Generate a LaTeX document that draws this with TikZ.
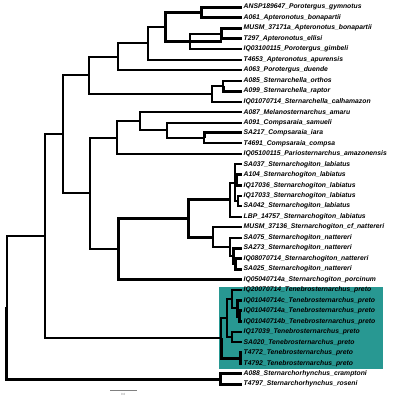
\documentclass[tikz,border=0pt]{standalone}
\usepackage{fontspec}
\setsansfont{Liberation Sans}
\usetikzlibrary{positioning}

\definecolor{clade}{RGB}{40,152,146}
\tikzset{
    br/.style={line width=2pt},
    thk/.style={line width=3pt},
    lab/.style={anchor=west, inner sep=0pt, font=\sffamily\bfseries\itshape\fontsize{6.8}{7}\selectfont},
}

\begin{document}
\begin{tikzpicture}[x=1pt, y=-1pt]
    \useasboundingbox (0, 0) rectangle (393, 400);
    % shaded clade
    \fill[clade] (219, 286.7) rectangle (383.3, 369.3);

    % leaf tips
    \coordinate (L1) at (242, 7.3);
    \coordinate (L2) at (242, 17.8);
    \coordinate (L3) at (242, 28.2);
    \coordinate (L4) at (242, 38.7);
    \coordinate (L5) at (242, 49.2);
    \coordinate (L6) at (242, 59.7);
    \coordinate (L7) at (242, 70.1);
    \coordinate (L8) at (242, 80.6);
    \coordinate (L9) at (242, 91.1);
    \coordinate (L10) at (242, 101.5);
    \coordinate (L11) at (242, 112.0);
    \coordinate (L12) at (242, 122.5);
    \coordinate (L13) at (242, 132.9);
    \coordinate (L14) at (242, 143.4);
    \coordinate (L15) at (242, 153.9);
    \coordinate (L16) at (242, 164.4);
    \coordinate (L17) at (242, 174.8);
    \coordinate (L18) at (242, 185.3);
    \coordinate (L19) at (242, 195.8);
    \coordinate (L20) at (242, 206.2);
    \coordinate (L21) at (242, 216.7);
    \coordinate (L22) at (242, 227.2);
    \coordinate (L23) at (242, 237.6);
    \coordinate (L24) at (242, 248.1);
    \coordinate (L25) at (242, 258.6);
    \coordinate (L26) at (242, 269.1);
    \coordinate (L27) at (242, 279.5);
    \coordinate (L28) at (242, 290.0);
    \coordinate (L29) at (242, 300.5);
    \coordinate (L30) at (242, 310.9);
    \coordinate (L31) at (242, 321.4);
    \coordinate (L32) at (242, 331.9);
    \coordinate (L33) at (242, 342.3);
    \coordinate (L34) at (242, 352.8);
    \coordinate (L35) at (242, 363.3);
    \coordinate (L36) at (242, 373.8);
    \coordinate (L37) at (242, 384.2);

    % internal nodes
    \coordinate (n12) at (201.7, 12.5);
    \coordinate (n34) at (221.7, 33.5);
    \coordinate (n345) at (190, 41.3);
    \coordinate (nApt) at (165, 26.9);
    \coordinate (nC) at (148.3, 43.3);
    \coordinate (nD) at (118.3, 56.7);
    \coordinate (n89) at (223.3, 85.8);
    \coordinate (nStc) at (211.7, 93.7);
    \coordinate (nE) at (89.3, 75.2);
    \coordinate (nCmp) at (204, 138.2);
    \coordinate (nCmp2) at (166.7, 130.3);
    \coordinate (nMel) at (140, 121.2);
    \coordinate (nH) at (116.7, 137.5);
    \coordinate (nLb) at (236.7, 180.1);
    \coordinate (nLc) at (237.5, 201.0);
    \coordinate (nLa) at (235, 182.7);
    \coordinate (nLab) at (230, 199.7);
    \coordinate (nN3) at (235.5, 263.8);
    \coordinate (nN2) at (233.3, 256.0);
    \coordinate (nN1) at (230, 246.8);
    \coordinate (nNat) at (213.3, 237.0);
    \coordinate (nJ) at (188.3, 218.4);
    \coordinate (nI) at (118.3, 249.0);
    \coordinate (nG) at (90, 193.3);
    \coordinate (nB) at (63.3, 134.3);
    \coordinate (nT2b) at (239, 316.2);
    \coordinate (nT2a) at (237, 308.3);
    \coordinate (nT2) at (231.7, 299.2);
    \coordinate (nT3) at (231.7, 337.1);
    \coordinate (nT1) at (226.7, 318.2);
    \coordinate (nT4) at (240.5, 358.0);
    \coordinate (nT0) at (221, 338.1);
    \coordinate (nA0) at (45, 236.2);
    \coordinate (nS) at (220, 379.0);
    \coordinate (root) at (6.7, 307.6);
    \coordinate (stub) at (4.5, 307.6);

    % branches
    \draw[thk] (n12) |- (L1) (n12) |- (L2);
    \draw[thk] (n34) |- (L3) (n34) |- (L4);
    \draw[br] (n345) |- (L5);
    \draw[br] (n345) |- (n34);
    \draw[thk] (n345) -- (n34 |- n345);
    \draw[thk] (nApt) |- (n12) (nApt) |- (n345);
    \draw[br] (nC) |- (nApt) (nC) |- (L6);
    \draw[br] (nD) |- (nC) (nD) |- (L7);
    \draw[br] (n89) |- (L8);
    \draw[thk] (n89) |- (L9);
    \draw[br] (nStc) |- (n89) (nStc) |- (L10);
    \draw[br] (nE) |- (nD) (nE) |- (nStc);
    \draw[thk] (nCmp) |- (L13);
    \draw[br] (nCmp) |- (L14);
    \draw[br] (nCmp2) |- (L12) (nCmp2) |- (nCmp);
    \draw[br] (nMel) |- (L11) (nMel) |- (nCmp2);
    \draw[br] (nH) |- (nMel) (nH) |- (L15);
    \draw[thk] (nLb) |- (L17) (nLb) |- (L18);
    \draw[br] (nLc) |- (L19) (nLc) |- (L20);
    \draw[br] (nLa) |- (L16) (nLa) |- (nLc);
    \draw[thk] (nLa) |- (nLb);
    \draw[br] (nLab) |- (nLa) (nLab) |- (L21);
    \draw[thk] (nN3) |- (L25) (nN3) |- (L26);
    \draw[thk] (nN2) |- (L24) (nN2) |- (nN3);
    \draw[br] (nN1) |- (L23) (nN1) |- (nN2);
    \draw[br] (nNat) |- (L22) (nNat) |- (nN1);
    \draw[thk] (nJ) |- (nLab) (nJ) |- (nNat);
    \draw[thk] (nI) |- (nJ) (nI) |- (L27);
    \draw[br] (nG) |- (nH) (nG) |- (nI);
    \draw[br] (nB) |- (nE) (nB) |- (nG);
    \draw[thk] (nT2b) |- (L30) (nT2b) |- (L31);
    \draw[thk] (nT2a) |- (L29) (nT2a) |- (nT2b);
    \draw[br] (nT2) |- (L28) (nT2) |- (nT2a);
    \draw[br] (nT3) |- (L32) (nT3) |- (L33);
    \draw[br] (nT1) |- (nT2) (nT1) |- (nT3);
    \draw[thk] (nT4) |- (L34) (nT4) |- (L35);
    \draw[br] (nT0) |- (nT1);
    \draw[thk] (nT0) |- (nT4);
    \draw[br] (nA0) |- (nB) (nA0) |- (nT0);
    \draw[thk] (nS) |- (L36) (nS) |- (L37);
    \draw[br] (root) |- (nA0);
    \draw[thk] (root) |- (nS);
    \draw[br] (root) -- (stub);

    % tip labels
    \node[lab] (t1) at (243.5, 7.3) {ANSP189647\_Porotergus\_gymnotus};
    \node[lab] (t2) at (243.5, 17.8) {A061\_Apteronotus\_bonapartii};
    \node[lab] (t3) at (243.5, 28.2) {MUSM\_37171a\_Apteronotus\_bonapartii};
    \node[lab] (t4) at (243.5, 38.7) {T297\_Apteronotus\_ellisi};
    \node[lab] (t5) at (243.5, 49.2) {IQ03100115\_Porotergus\_gimbeli};
    \node[lab] (t6) at (243.5, 59.7) {T4653\_Apteronotus\_apurensis};
    \node[lab] (t7) at (243.5, 70.1) {A063\_Porotergus\_duende};
    \node[lab] (t8) at (243.5, 80.6) {A085\_Sternarchella\_orthos};
    \node[lab] (t9) at (243.5, 91.1) {A099\_Sternarchella\_raptor};
    \node[lab] (t10) at (243.5, 101.5) {IQ01070714\_Sternarchella\_calhamazon};
    \node[lab] (t11) at (243.5, 112.0) {A087\_Melanosternarchus\_amaru};
    \node[lab] (t12) at (243.5, 122.5) {A091\_Compsaraia\_samueli};
    \node[lab] (t13) at (243.5, 132.9) {SA217\_Compsaraia\_iara};
    \node[lab] (t14) at (243.5, 143.4) {T4691\_Compsaraia\_compsa};
    \node[lab] (t15) at (243.5, 153.9) {IQ05100115\_Pariosternarchus\_amazonensis};
    \node[lab] (t16) at (243.5, 164.4) {SA037\_Sternarchogiton\_labiatus};
    \node[lab] (t17) at (243.5, 174.8) {A104\_Sternarchogiton\_labiatus};
    \node[lab] (t18) at (243.5, 185.3) {IQ17036\_Sternarchogiton\_labiatus};
    \node[lab] (t19) at (243.5, 195.8) {IQ17033\_Sternarchogiton\_labiatus};
    \node[lab] (t20) at (243.5, 206.2) {SA042\_Sternarchogiton\_labiatus};
    \node[lab] (t21) at (243.5, 216.7) {LBP\_14757\_Sternarchogiton\_labiatus};
    \node[lab] (t22) at (243.5, 227.2) {MUSM\_37136\_Sternarchogiton\_cf\_nattereri};
    \node[lab] (t23) at (243.5, 237.6) {SA075\_Sternarchogiton\_nattereri};
    \node[lab] (t24) at (243.5, 248.1) {SA273\_Sternarchogiton\_nattereri};
    \node[lab] (t25) at (243.5, 258.6) {IQ08070714\_Sternarchogiton\_nattereri};
    \node[lab] (t26) at (243.5, 269.1) {SA025\_Sternarchogiton\_nattereri};
    \node[lab] (t27) at (243.5, 279.5) {IQ05040714a\_Sternarchogiton\_porcinum};
    \node[lab] (t28) at (243.5, 290.0) {IQ20070714\_Tenebrosternarchus\_preto};
    \node[lab] (t29) at (243.5, 300.5) {IQ01040714c\_Tenebrosternarchus\_preto};
    \node[lab] (t30) at (243.5, 310.9) {IQ01040714a\_Tenebrosternarchus\_preto};
    \node[lab] (t31) at (243.5, 321.4) {IQ01040714b\_Tenebrosternarchus\_preto};
    \node[lab] (t32) at (243.5, 331.9) {IQ17039\_Tenebrosternarchus\_preto};
    \node[lab] (t33) at (243.5, 342.3) {SA020\_Tenebrosternarchus\_preto};
    \node[lab] (t34) at (243.5, 352.8) {T4772\_Tenebrosternarchus\_preto};
    \node[lab] (t35) at (243.5, 363.3) {T4792\_Tenebrosternarchus\_preto};
    \node[lab] (t36) at (243.5, 373.8) {A088\_Sternarchorhynchus\_cramptoni};
    \node[lab] (t37) at (243.5, 384.2) {T4797\_Sternarchorhynchus\_roseni};

    % scale bar
    \coordinate (sb0) at (110, 390);
    \coordinate (sb1) at (136.7, 390);
    \draw[gray, line width=0.8pt] (sb0) -- (sb1);
    \node[gray, inner sep=0pt, font=\sffamily\fontsize{3}{3}\selectfont] (sbl) at (123.3, 394) {0.0};
\end{tikzpicture}
\end{document}
